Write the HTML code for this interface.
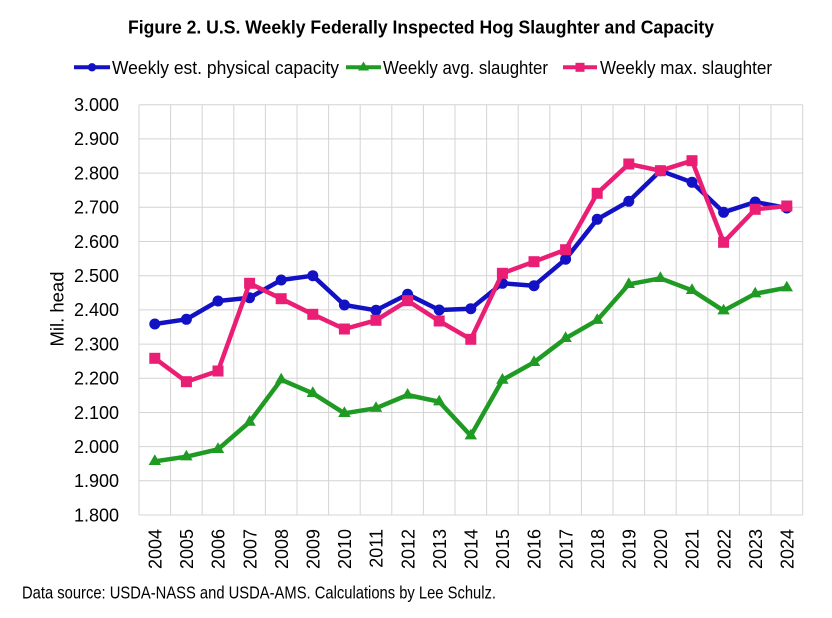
<!DOCTYPE html>
<html>
<head>
<meta charset="utf-8">
<style>
html,body{margin:0;padding:0;background:#fff;}
svg{display:block;}
text{font-family:"Liberation Sans",Arial,sans-serif;fill:#000;}
</style>
</head>
<body>
<svg width="832" height="618" viewBox="0 0 832 618" xmlns="http://www.w3.org/2000/svg">
<rect x="0" y="0" width="832" height="618" fill="#fff"/>
<!-- Title -->
<text x="128" y="33.5" font-size="18" font-weight="bold" textLength="586" lengthAdjust="spacingAndGlyphs">Figure 2. U.S. Weekly Federally Inspected Hog Slaughter and Capacity</text>

<!-- Legend -->
<line x1="74" y1="67.3" x2="110" y2="67.3" stroke="#1212C4" stroke-width="4"/>
<circle cx="92" cy="67.3" r="4.2" fill="#1212C4"/>
<text x="112" y="74" font-size="18.5" textLength="227" lengthAdjust="spacingAndGlyphs">Weekly est. physical capacity</text>
<line x1="346" y1="67.3" x2="381" y2="67.3" stroke="#1F9B24" stroke-width="4"/>
<polygon points="363.5,61.5 369,70.5 358,70.5" fill="#1F9B24"/>
<text x="383" y="74" font-size="18.5" textLength="165" lengthAdjust="spacingAndGlyphs">Weekly avg. slaughter</text>
<line x1="563" y1="67.3" x2="597" y2="67.3" stroke="#E91E74" stroke-width="4"/>
<rect x="575.5" y="62.8" width="9" height="9" fill="#E91E74"/>
<text x="600" y="74" font-size="18.5" textLength="172" lengthAdjust="spacingAndGlyphs">Weekly max. slaughter</text>

<!-- Grid -->
<g stroke="#d4d4d4" stroke-width="1" fill="none">
<line x1="139" y1="104.7" x2="802.7" y2="104.7"/>
<line x1="139" y1="138.9" x2="802.7" y2="138.9"/>
<line x1="139" y1="173.1" x2="802.7" y2="173.1"/>
<line x1="139" y1="207.3" x2="802.7" y2="207.3"/>
<line x1="139" y1="241.5" x2="802.7" y2="241.5"/>
<line x1="139" y1="275.7" x2="802.7" y2="275.7"/>
<line x1="139" y1="309.9" x2="802.7" y2="309.9"/>
<line x1="139" y1="344.1" x2="802.7" y2="344.1"/>
<line x1="139" y1="378.3" x2="802.7" y2="378.3"/>
<line x1="139" y1="412.5" x2="802.7" y2="412.5"/>
<line x1="139" y1="446.6" x2="802.7" y2="446.6"/>
<line x1="139" y1="480.8" x2="802.7" y2="480.8"/>
<line x1="139" y1="515" x2="802.7" y2="515"/>
<line x1="139" y1="104.7" x2="139" y2="515"/>
<line x1="170.6" y1="104.7" x2="170.6" y2="515"/>
<line x1="202.2" y1="104.7" x2="202.2" y2="515"/>
<line x1="233.8" y1="104.7" x2="233.8" y2="515"/>
<line x1="265.4" y1="104.7" x2="265.4" y2="515"/>
<line x1="297" y1="104.7" x2="297" y2="515"/>
<line x1="328.6" y1="104.7" x2="328.6" y2="515"/>
<line x1="360.2" y1="104.7" x2="360.2" y2="515"/>
<line x1="391.8" y1="104.7" x2="391.8" y2="515"/>
<line x1="423.4" y1="104.7" x2="423.4" y2="515"/>
<line x1="455" y1="104.7" x2="455" y2="515"/>
<line x1="486.6" y1="104.7" x2="486.6" y2="515"/>
<line x1="518.2" y1="104.7" x2="518.2" y2="515"/>
<line x1="549.8" y1="104.7" x2="549.8" y2="515"/>
<line x1="581.4" y1="104.7" x2="581.4" y2="515"/>
<line x1="613" y1="104.7" x2="613" y2="515"/>
<line x1="644.6" y1="104.7" x2="644.6" y2="515"/>
<line x1="676.2" y1="104.7" x2="676.2" y2="515"/>
<line x1="707.8" y1="104.7" x2="707.8" y2="515"/>
<line x1="739.4" y1="104.7" x2="739.4" y2="515"/>
<line x1="771" y1="104.7" x2="771" y2="515"/>
<line x1="802.7" y1="104.7" x2="802.7" y2="515"/>
</g>

<!-- Y tick labels -->
<g font-size="18" text-anchor="end">
<text x="119" y="111">3.000</text>
<text x="119" y="145.2">2.900</text>
<text x="119" y="179.4">2.800</text>
<text x="119" y="213.6">2.700</text>
<text x="119" y="247.8">2.600</text>
<text x="119" y="282">2.500</text>
<text x="119" y="316.2">2.400</text>
<text x="119" y="350.4">2.300</text>
<text x="119" y="384.6">2.200</text>
<text x="119" y="418.8">2.100</text>
<text x="119" y="452.9">2.000</text>
<text x="119" y="487.1">1.900</text>
<text x="119" y="521.3">1.800</text>
</g>

<!-- Y axis title -->
<text transform="translate(63.5,309) rotate(-90)" font-size="18" text-anchor="middle" textLength="75" lengthAdjust="spacingAndGlyphs">Mil. head</text>

<!-- X labels -->
<g font-size="18" text-anchor="end">
<text transform="translate(161.5,529) rotate(-90)">2004</text>
<text transform="translate(193.1,529) rotate(-90)">2005</text>
<text transform="translate(224.7,529) rotate(-90)">2006</text>
<text transform="translate(256.3,529) rotate(-90)">2007</text>
<text transform="translate(287.9,529) rotate(-90)">2008</text>
<text transform="translate(319.5,529) rotate(-90)">2009</text>
<text transform="translate(351.1,529) rotate(-90)">2010</text>
<text transform="translate(382.7,529) rotate(-90)">2011</text>
<text transform="translate(414.3,529) rotate(-90)">2012</text>
<text transform="translate(445.9,529) rotate(-90)">2013</text>
<text transform="translate(477.5,529) rotate(-90)">2014</text>
<text transform="translate(509.1,529) rotate(-90)">2015</text>
<text transform="translate(540.7,529) rotate(-90)">2016</text>
<text transform="translate(572.3,529) rotate(-90)">2017</text>
<text transform="translate(603.9,529) rotate(-90)">2018</text>
<text transform="translate(635.5,529) rotate(-90)">2019</text>
<text transform="translate(667.1,529) rotate(-90)">2020</text>
<text transform="translate(698.7,529) rotate(-90)">2021</text>
<text transform="translate(730.3,529) rotate(-90)">2022</text>
<text transform="translate(761.9,529) rotate(-90)">2023</text>
<text transform="translate(793.5,529) rotate(-90)">2024</text>
</g>

<!-- Blue series -->
<polyline fill="none" stroke="#1212C4" stroke-width="4.5" stroke-linejoin="round"
points="154.8,324 186.4,319.3 218,301 249.6,297.7 281.2,280 312.8,275.7 344.4,305 376,310.3 407.6,294.3 439.2,310 470.8,308.7 502.4,283.3 534,285.7 565.6,259.2 597.2,219.3 628.8,201.3 660.4,170.7 692,182.3 723.6,212.3 755.2,202 786.8,208"/>
<g fill="#1212C4">
<circle cx="154.8" cy="324" r="5.5"/><circle cx="186.4" cy="319.3" r="5.5"/><circle cx="218" cy="301" r="5.5"/><circle cx="249.6" cy="297.7" r="5.5"/><circle cx="281.2" cy="280" r="5.5"/><circle cx="312.8" cy="275.7" r="5.5"/><circle cx="344.4" cy="305" r="5.5"/><circle cx="376" cy="310.3" r="5.5"/><circle cx="407.6" cy="294.3" r="5.5"/><circle cx="439.2" cy="310" r="5.5"/><circle cx="470.8" cy="308.7" r="5.5"/><circle cx="502.4" cy="283.3" r="5.5"/><circle cx="534" cy="285.7" r="5.5"/><circle cx="565.6" cy="259.2" r="5.5"/><circle cx="597.2" cy="219.3" r="5.5"/><circle cx="628.8" cy="201.3" r="5.5"/><circle cx="660.4" cy="170.7" r="5.5"/><circle cx="692" cy="182.3" r="5.5"/><circle cx="723.6" cy="212.3" r="5.5"/><circle cx="755.2" cy="202" r="5.5"/><circle cx="786.8" cy="208" r="5.5"/>
</g>

<!-- Green series -->
<polyline fill="none" stroke="#1F9B24" stroke-width="4.5" stroke-linejoin="round"
points="154.8,461.3 186.4,456.7 218,449.3 249.6,422 281.2,379.7 312.8,393.3 344.4,413.3 376,408.2 407.6,395 439.2,401.7 470.8,435.7 502.4,380 534,362.3 565.6,338.3 597.2,320.2 628.8,284.3 660.4,278.3 692,290.3 723.6,310.7 755.2,293.7 786.8,287.7"/>
<g fill="#1F9B24">
<polygon points="154.8,454.3 161,465 148.6,465"/>
<polygon points="186.4,449.7 192.6,460.4 180.2,460.4"/>
<polygon points="218,442.3 224.2,453 211.8,453"/>
<polygon points="249.6,415 255.8,425.7 243.4,425.7"/>
<polygon points="281.2,372.7 287.4,383.4 275,383.4"/>
<polygon points="312.8,386.3 319,397 306.6,397"/>
<polygon points="344.4,406.3 350.6,417 338.2,417"/>
<polygon points="376,401.2 382.2,411.9 369.8,411.9"/>
<polygon points="407.6,388 413.8,398.7 401.4,398.7"/>
<polygon points="439.2,394.7 445.4,405.4 433,405.4"/>
<polygon points="470.8,428.7 477,439.4 464.6,439.4"/>
<polygon points="502.4,373 508.6,383.7 496.2,383.7"/>
<polygon points="534,355.3 540.2,366 527.8,366"/>
<polygon points="565.6,331.3 571.8,342 559.4,342"/>
<polygon points="597.2,313.2 603.4,323.9 591,323.9"/>
<polygon points="628.8,277.3 635,288 622.6,288"/>
<polygon points="660.4,271.3 666.6,282 654.2,282"/>
<polygon points="692,283.3 698.2,294 685.8,294"/>
<polygon points="723.6,303.7 729.8,314.4 717.4,314.4"/>
<polygon points="755.2,286.7 761.4,297.4 749,297.4"/>
<polygon points="786.8,280.7 793,291.4 780.6,291.4"/>
</g>

<!-- Pink series -->
<polyline fill="none" stroke="#E91E74" stroke-width="4.5" stroke-linejoin="round"
points="154.8,358.3 186.4,381.7 218,371 249.6,283.3 281.2,298.7 312.8,314.3 344.4,329 376,320.3 407.6,300.7 439.2,321 470.8,339.3 502.4,273.3 534,261.7 565.6,249.7 597.2,193.3 628.8,164 660.4,170.7 692,160.7 723.6,242.3 755.2,209.3 786.8,206"/>
<g fill="#E91E74">
<rect x="149.3" y="352.8" width="11" height="11"/>
<rect x="180.9" y="376.2" width="11" height="11"/>
<rect x="212.5" y="365.5" width="11" height="11"/>
<rect x="244.1" y="277.8" width="11" height="11"/>
<rect x="275.7" y="293.2" width="11" height="11"/>
<rect x="307.3" y="308.8" width="11" height="11"/>
<rect x="338.9" y="323.5" width="11" height="11"/>
<rect x="370.5" y="314.8" width="11" height="11"/>
<rect x="402.1" y="295.2" width="11" height="11"/>
<rect x="433.7" y="315.5" width="11" height="11"/>
<rect x="465.3" y="333.8" width="11" height="11"/>
<rect x="496.9" y="267.8" width="11" height="11"/>
<rect x="528.5" y="256.2" width="11" height="11"/>
<rect x="560.1" y="244.2" width="11" height="11"/>
<rect x="591.7" y="187.8" width="11" height="11"/>
<rect x="623.3" y="158.5" width="11" height="11"/>
<rect x="654.9" y="165.2" width="11" height="11"/>
<rect x="686.5" y="155.2" width="11" height="11"/>
<rect x="718.1" y="236.8" width="11" height="11"/>
<rect x="749.7" y="203.8" width="11" height="11"/>
<rect x="781.3" y="200.5" width="11" height="11"/>
</g>

<!-- Footer -->
<text x="22" y="598.5" font-size="17.5" textLength="474" lengthAdjust="spacingAndGlyphs">Data source: USDA-NASS and USDA-AMS. Calculations by Lee Schulz.</text>
</svg>
</body>
</html>
